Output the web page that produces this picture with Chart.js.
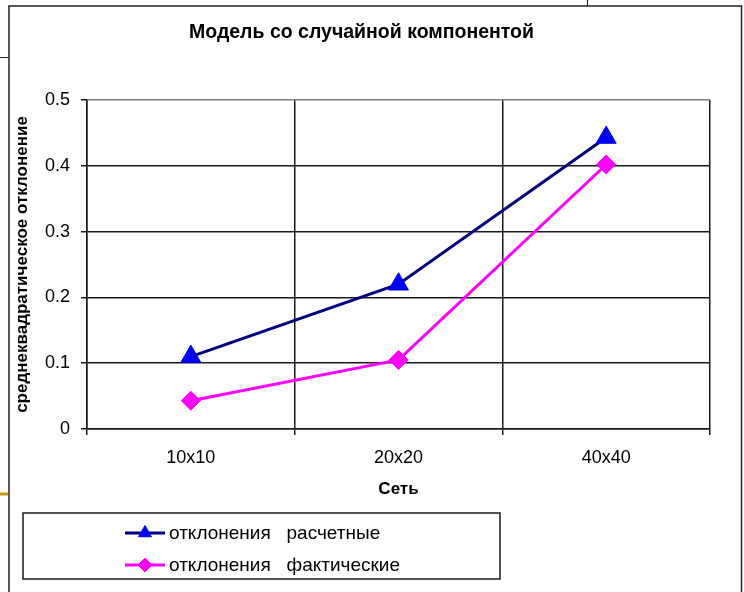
<!DOCTYPE html>
<html>
<head>
<meta charset="utf-8">
<title>Модель со случайной компонентой</title>
<script src="https://cdn.jsdelivr.net/npm/chart.js@4/dist/chart.umd.min.js"></script>
<style>
  html, body { margin: 0; padding: 0; background: #fff; }
  #wrap { width: 744px; height: 592px; position: relative; }
</style>
</head>
<body>
<div id="wrap"><canvas id="c" width="744" height="592"></canvas></div>
<script>
// Grid sizes and RMS deviations per series
const categories = ['10x10', '20x20', '40x40'];
const calcDeviation = [0.11, 0.22, 0.443];
const actualDeviation = [0.043, 0.105, 0.402];
const yTicks = [0, 0.1, 0.2, 0.3, 0.4, 0.5];
const seriesNames = ['отклонения   расчетные', 'отклонения   фактические'];

const FONT = '"Liberation Sans", Arial, sans-serif';

// White page, outer frame of the chart object and a few stray slide lines
const frame = {
  id: 'frame',
  beforeDraw(chart) {
    const ctx = chart.ctx;
    ctx.save();
    ctx.fillStyle = '#fff';
    ctx.fillRect(0, 0, chart.width, chart.height);
    ctx.strokeStyle = '#222';
    ctx.lineWidth = 1.5;
    ctx.strokeRect(9, 6, 732.5, 600);
    ctx.lineWidth = 1.2;
    ctx.beginPath();
    ctx.moveTo(0, 57.5); ctx.lineTo(9, 57.5);
    ctx.moveTo(587.5, 0); ctx.lineTo(587.5, 6);
    ctx.stroke();
    ctx.strokeStyle = '#c89a10';
    ctx.lineWidth = 3;
    ctx.beginPath(); ctx.moveTo(0, 494); ctx.lineTo(8, 494); ctx.stroke();
    ctx.restore();
  }
};

// Boxed legend with line + marker samples
const boxedLegend = {
  id: 'boxedLegend',
  afterDraw(chart, args, o) {
    const ctx = chart.ctx;
    ctx.save();
    ctx.strokeStyle = '#1a1a1a';
    ctx.lineWidth = 1.5;
    ctx.strokeRect(o.x, o.y, o.w, o.h);
    chart.data.datasets.forEach((ds, i) => {
      const cy = o.y + o.rowStart + i * o.rowGap;
      ctx.strokeStyle = ds.borderColor;
      ctx.lineWidth = ds.borderWidth;
      ctx.beginPath();
      ctx.moveTo(o.lineX0, cy);
      ctx.lineTo(o.lineX1, cy);
      ctx.stroke();
      ctx.fillStyle = ds.pointBackgroundColor;
      ctx.strokeStyle = ds.pointBorderColor;
      ctx.lineWidth = 1;
      Chart.helpers.drawPoint(ctx, {
        pointStyle: ds.pointStyle, rotation: 0,
        radius: o.markerRadius[i], borderWidth: 1
      }, (o.lineX0 + o.lineX1) / 2, cy);
      ctx.fillStyle = '#000';
      ctx.font = o.font;
      ctx.textBaseline = 'middle';
      ctx.textAlign = 'left';
      ctx.fillText(ds.label, o.textX, cy + 1);
    });
    ctx.restore();
  }
};

new Chart(document.getElementById('c'), {
  type: 'line',
  data: {
    labels: categories,
    datasets: [
      {
        label: seriesNames[0],
        data: calcDeviation,
        borderColor: '#000080',
        borderWidth: 3,
        pointStyle: 'triangle',
        pointRadius: 11.5,
        pointHoverRadius: 11.5,
        pointBackgroundColor: '#0000ff',
        pointBorderColor: '#0000ff',
        pointBorderWidth: 1,
        tension: 0,
        fill: false
      },
      {
        label: seriesNames[1],
        data: actualDeviation,
        borderColor: '#ff00ff',
        borderWidth: 3,
        pointStyle: 'rectRot',
        pointRadius: 9.5,
        pointHoverRadius: 9.5,
        pointBackgroundColor: '#ff00ff',
        pointBorderColor: '#ff00ff',
        pointBorderWidth: 1,
        tension: 0,
        fill: false
      }
    ]
  },
  options: {
    responsive: false,
    animation: false,
    events: [],
    layout: { padding: { left: 13, top: 0, right: 34, bottom: 92 } },
    plugins: {
      legend: { display: false },
      tooltip: { enabled: false },
      title: {
        display: true,
        text: 'Модель со случайной компонентой',
        color: '#000',
        font: { family: FONT, size: 19.5, weight: 'bold', lineHeight: 1.2 },
        padding: { top: 21, bottom: 55.6 }
      },
      boxedLegend: {
        x: 23, y: 513, w: 477, h: 66,
        rowStart: 20, rowGap: 32,
        lineX0: 125, lineX1: 165, textX: 169,
        markerRadius: [7.5, 7],
        font: '19px ' + FONT
      }
    },
    scales: {
      x: {
        type: 'category',
        offset: true,
        afterFit: s => { s.height = 71; },
        grid: {
          offset: true,
          color: c => (c.index === categories.length ? '#808080' : '#1a1a1a'),
          tickColor: '#1a1a1a',
          lineWidth: 1.5,
          tickLength: 6,
          drawTicks: true
        },
        border: { display: true, color: '#1a1a1a', width: 1.5 },
        ticks: {
          color: '#000',
          padding: 12,
          maxRotation: 0,
          font: { family: FONT, size: 18 }
        },
        title: {
          display: true,
          text: 'Сеть',
          color: '#000',
          font: { family: FONT, size: 17, weight: 'bold', lineHeight: 1.2 },
          padding: { top: 0, bottom: 0 }
        }
      },
      y: {
        min: 0,
        max: 0.5,
        afterFit: s => { s.width = 74; },
        afterBuildTicks: s => { s.ticks = yTicks.map(v => ({ value: v })); },
        grid: {
          color: c => (c.tick && c.tick.value === 0.5 ? '#808080' : '#1a1a1a'),
          tickColor: '#1a1a1a',
          lineWidth: 1.5,
          tickLength: 6
        },
        border: { display: true, color: '#1a1a1a', width: 1.5 },
        ticks: {
          color: '#000',
          padding: 11,
          font: { family: FONT, size: 18 },
          callback: v => String(v)
        },
        title: {
          display: true,
          text: 'среднеквадратическое отклонение',
          color: '#000',
          font: { family: FONT, size: 17, weight: 'bold', lineHeight: 1.1 },
          padding: { top: 0, bottom: 0 }
        }
      }
    }
  },
  plugins: [frame, boxedLegend]
});
</script>
</body>
</html>
